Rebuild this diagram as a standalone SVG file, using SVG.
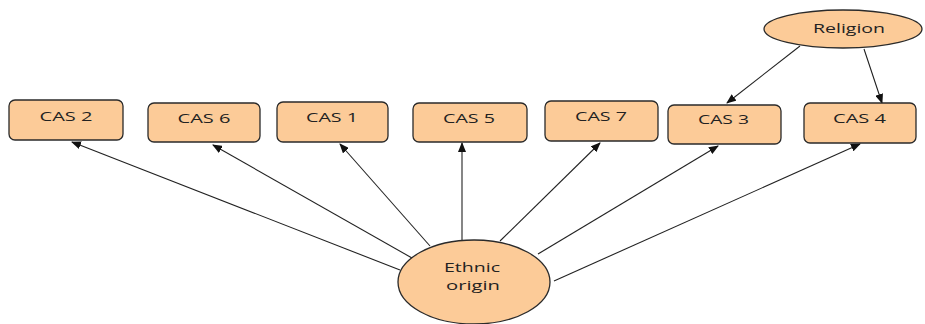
<svg xmlns="http://www.w3.org/2000/svg" width="925" height="324" viewBox="0 0 925 324">
  <defs>
    <marker id="arrow" markerWidth="10" markerHeight="8" refX="9" refY="4" orient="auto" markerUnits="userSpaceOnUse">
      <path d="M0,0 L10,4 L0,8 Z" fill="#111"/>
    </marker>
    <style>
      .box { fill: #FCCB98; stroke: #2a2a2a; stroke-width: 1.3; }
      .lbl { font-family: "Open Sans", "Liberation Sans", sans-serif; font-size: 13px; fill: #222; text-anchor: middle; }
      .edge { stroke: #222; stroke-width: 1.1; fill: none; marker-end: url(#arrow); }
    </style>
  </defs>
  <rect width="925" height="324" fill="#fff"/>

  <g id="edges">
    <line class="edge" x1="400" y1="270" x2="72" y2="142"/>
    <line class="edge" x1="412" y1="258" x2="213" y2="145"/>
    <line class="edge" x1="430" y1="246" x2="340" y2="144"/>
    <line class="edge" x1="462" y1="240" x2="462" y2="143"/>
    <line class="edge" x1="500" y1="241" x2="600" y2="143"/>
    <line class="edge" x1="538" y1="254" x2="718" y2="146"/>
    <line class="edge" x1="554" y1="281" x2="860" y2="144"/>
    <line class="edge" x1="800" y1="46" x2="727" y2="103"/>
    <line class="edge" x1="864" y1="49" x2="882" y2="103"/>
  </g>

  <g id="religion">
    <ellipse class="box" cx="843" cy="29" rx="79" ry="19"/>
    <text class="lbl" x="849" y="33" textLength="72" lengthAdjust="spacingAndGlyphs">Religion</text>
  </g>

  <g id="cas2">
    <rect class="box" x="9" y="100" width="114" height="40" rx="6"/>
    <text class="lbl" x="66" y="121" textLength="53" lengthAdjust="spacingAndGlyphs">CAS 2</text>
  </g>
  <g id="cas6">
    <rect class="box" x="148" y="103" width="112" height="39" rx="6"/>
    <text class="lbl" x="204" y="123" textLength="53" lengthAdjust="spacingAndGlyphs">CAS 6</text>
  </g>
  <g id="cas1">
    <rect class="box" x="277" y="102" width="111" height="40" rx="6"/>
    <text class="lbl" x="332" y="122" textLength="52" lengthAdjust="spacingAndGlyphs">CAS 1</text>
  </g>
  <g id="cas5">
    <rect class="box" x="413" y="103" width="114" height="39" rx="6"/>
    <text class="lbl" x="469" y="123" textLength="52" lengthAdjust="spacingAndGlyphs">CAS 5</text>
  </g>
  <g id="cas7">
    <rect class="box" x="545" y="101" width="113" height="40" rx="6"/>
    <text class="lbl" x="601" y="121" textLength="52" lengthAdjust="spacingAndGlyphs">CAS 7</text>
  </g>
  <g id="cas3">
    <rect class="box" x="668" y="105" width="113" height="39" rx="6"/>
    <text class="lbl" x="723.5" y="124" textLength="51" lengthAdjust="spacingAndGlyphs">CAS 3</text>
  </g>
  <g id="cas4">
    <rect class="box" x="804" y="103" width="112" height="40" rx="6"/>
    <text class="lbl" x="859.5" y="122.5" textLength="53" lengthAdjust="spacingAndGlyphs">CAS 4</text>
  </g>

  <g id="ethnic-origin">
    <ellipse class="box" cx="474" cy="282" rx="76" ry="42"/>
    <text class="lbl" x="472" y="272" textLength="56" lengthAdjust="spacingAndGlyphs">Ethnic</text>
    <text class="lbl" x="473" y="290" textLength="54" lengthAdjust="spacingAndGlyphs">origin</text>
  </g>
</svg>
